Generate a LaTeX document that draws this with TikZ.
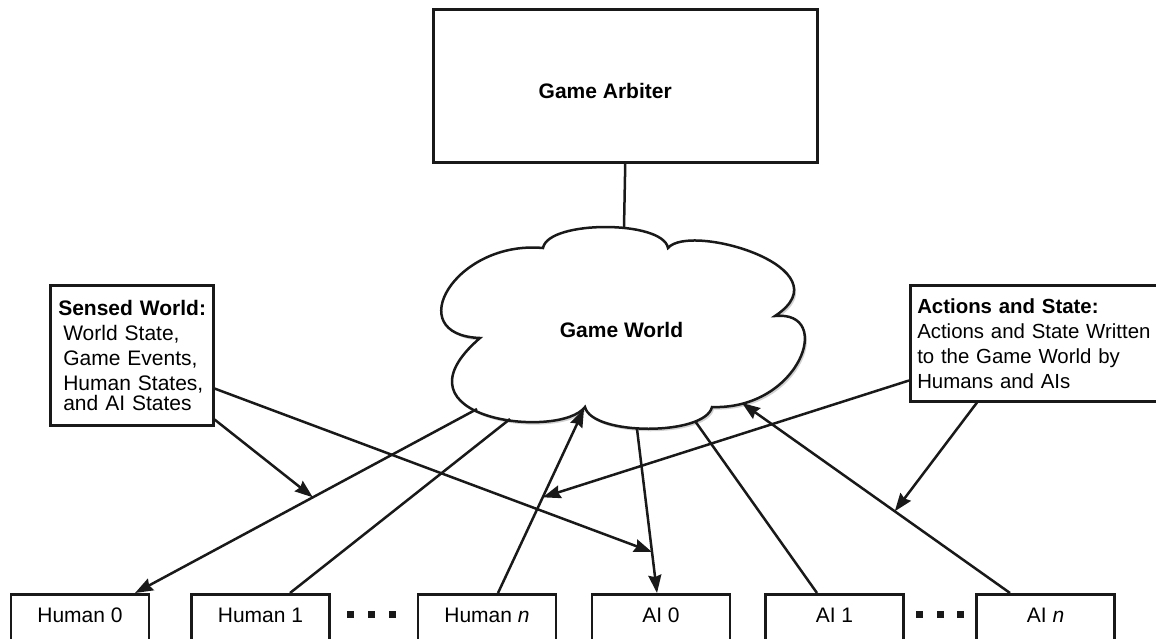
\documentclass[tikz,border=0pt]{standalone}
\usepackage{fontspec}
\setmainfont{Liberation Sans}
\usetikzlibrary{arrows.meta}
\newcommand\dfs{\fontsize{21}{25}\selectfont}
\newcommand\dfsb{\fontsize{20.4}{25}\selectfont}
\begin{document}
\begin{tikzpicture}[x=1pt,y=-1pt,line width=2.5pt,
  >={Stealth[length=18pt,width=13pt,inset=2pt]},
  box/.style={draw=black!90,rectangle,inner sep=0pt,font=\dfs,line width=2.5pt},
  bbox/.style={box,minimum width=138pt,anchor=north,text height=15pt,text depth=24pt,inner ysep=13pt},
  infobox/.style={box,anchor=north west,inner xsep=8pt,align=left},
  dotsq/.style={fill=black!90,rectangle,minimum size=7pt,inner sep=0pt},
  conn/.style={draw=black!90,line width=2.5pt},
  cloudsty/.style={draw=black!90,fill=white,line width=2.5pt,
    preaction={fill=black!18,transform canvas={xshift=2pt,yshift=-2.5pt}}}]
\fill[white] (0,0) rectangle (1156,638);
\useasboundingbox (0,0) rectangle (1156,638);

% Game Arbiter
\node[box,minimum width=384pt,minimum height=153pt,anchor=north west,text height=25pt] (arb) at (432,8) {\hspace*{-40pt}\bfseries Game Arbiter};

% cloud
\coordinate (c1) at (543,248);
\coordinate (c2) at (668,248);
\coordinate (c3) at (775,316);
\coordinate (c4) at (712,407);
\coordinate (c5) at (585,407);
\coordinate (c6) at (480,338);
\path[cloudsty] (c1) .. controls (548,220) and (663,220) .. (c2)
  .. controls (690,222) and (848,268) .. (c3)
  .. controls (835,310) and (800,410) .. (c4)
  .. controls (705,436) and (592,436) .. (c5)
  .. controls (560,440) and (385,420) .. (c6)
  .. controls (400,335) and (455,240) .. cycle;
\node[font=\dfs\bfseries] (gw) at (621.5,329.5) {Game World};
\coordinate (gwtop) at (624,227.5);
\coordinate (gw1) at (477,409);
\coordinate (gw2) at (510,419);
\coordinate (gw3) at (584,409);
\coordinate (gw4) at (637,429);
\coordinate (gw5) at (695,421);
\coordinate (gw6) at (742,403);

% info boxes
\node[infobox,text width=147pt,minimum height=140pt] (sw) at (49,284)
  {\makebox[147pt][l]{\bfseries Sensed World:}\\\hspace*{5pt}World State,\\\hspace*{5pt}Game Events,\\\hspace*{5pt}Human States,\\[-5pt]\hspace*{5pt}and AI States};
\node[infobox,font=\dfsb,inner xsep=7pt,text width=248pt,minimum height=116pt] (act) at (909,284)
  {\textbf{Actions and State:}\\Actions and State Written\\to the Game World by\\Humans and AIs};

% bottom boxes
\node[bbox] (h0) at (80,593) {Human 0};
\node[bbox] (h1) at (260.5,593) {Human 1};
\node[bbox] (hn) at (487,593) {Human \textit{n}};
\node[bbox] (a0) at (661,593) {AI 0};
\node[bbox] (a1) at (834.5,593) {AI 1};
\node[bbox] (an) at (1045.5,593) {AI \textit{n}};

\node[dotsq] (d1) at (350,614) {};
\node[dotsq] (d2) at (371,614) {};
\node[dotsq] (d3) at (392,614) {};
\node[dotsq] (d4) at (919,614) {};
\node[dotsq] (d5) at (940,614) {};
\node[dotsq] (d6) at (960,614) {};

% connectors
\draw[conn] (arb.south) -- (gwtop);
\draw[conn,->] (gw1) -- ([xshift=55pt]h0.north);
\draw[conn] (gw2) -- ([xshift=29.5pt]h1.north);
\draw[conn,->] ([xshift=11pt]hn.north) -- (gw3);
\draw[conn,->] (gw4) -- ([xshift=-4pt]a0.north);
\draw[conn] (gw5) -- ([xshift=-17.5pt]a1.north);
\draw[conn,->] ([xshift=-35.5pt]an.north) -- (gw6);

\path (gw1) -- ([xshift=55pt]h0.north) coordinate[pos=0.48] (m1);
\path (gw4) -- ([xshift=-4pt]a0.north) coordinate[pos=0.75] (m4);
\path ([xshift=11pt]hn.north) -- (gw3) coordinate[pos=0.52] (m3);
\path ([xshift=-35.5pt]an.north) -- (gw6) coordinate[pos=0.43] (m6);

\draw[conn,->] ([yshift=7pt]sw.south east) -- (m1);
\draw[conn,->] ([yshift=38pt]sw.south east) -- (m4);
\draw[conn,->] ([yshift=22pt]act.south west) -- (m3);
\draw[conn,->] ([xshift=68pt]act.south west) -- (m6);
\end{tikzpicture}
\end{document}
